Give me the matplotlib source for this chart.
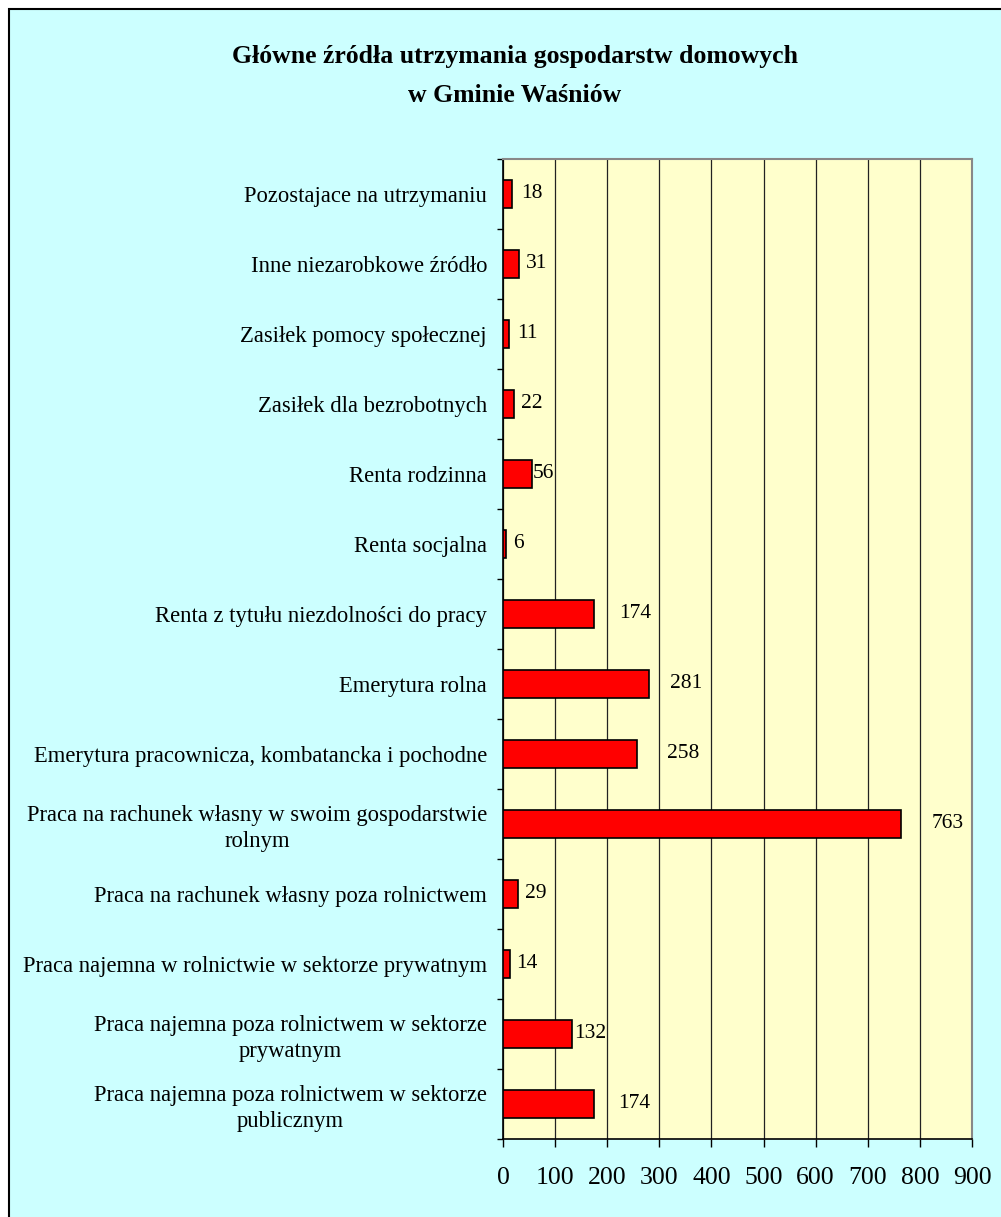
import matplotlib
matplotlib.use("Agg")
import matplotlib.pyplot as plt
from matplotlib.patches import Rectangle
from matplotlib.ticker import FixedLocator

plt.rcParams['font.family'] = ['Liberation Serif', 'DejaVu Serif']

# Data (bottom -> top as drawn)
categories = [
    "Praca najemna poza rolnictwem w sektorze\npublicznym",
    "Praca najemna poza rolnictwem w sektorze\nprywatnym",
    "Praca najemna w rolnictwie w sektorze prywatnym",
    "Praca na rachunek własny poza rolnictwem",
    "Praca na rachunek własny w swoim gospodarstwie\nrolnym",
    "Emerytura pracownicza, kombatancka i pochodne",
    "Emerytura rolna",
    "Renta z tytułu niezdolności do pracy",
    "Renta socjalna",
    "Renta rodzinna",
    "Zasiłek dla bezrobotnych",
    "Zasiłek pomocy społecznej",
    "Inne niezarobkowe źródło",
    "Pozostajace na utrzymaniu",
]
values = [174, 132, 14, 29, 763, 258, 281, 174, 6, 56, 22, 11, 31, 18]
x_ticks = [0, 100, 200, 300, 400, 500, 600, 700, 800, 900]
title = "Główne źródła utrzymania gospodarstw domowych\nw Gminie Waśniów"

# Style: label offsets (px) from bar end, as in the original rendering
label_pad_px = [24, 2, 6, 7, 31, 30, 21, 25, 7, 1, 7, 8, 7, 9]

W, H = 1001, 1217
fig = plt.figure(figsize=(W / 100, H / 100), dpi=100)
fig.patch.set_facecolor('white')

# outer chart area (cyan) with black border
fig.patches.append(Rectangle((9 / W, -0.01), 1.0, 1 - 9 / H + 0.01,
                             transform=fig.transFigure, facecolor='#CCFFFF',
                             edgecolor='black', linewidth=1.5, zorder=-10))

left, right, top, bottom = 503, 972, 159, 1139
ax = fig.add_axes([left / W, 1 - bottom / H, (right - left) / W, (bottom - top) / H])
ax.set_zorder(5)
ax.set_facecolor('#FFFFCC')

y = list(range(len(categories)))
ax.barh(y, values, height=0.39, color='#FF0000', edgecolor='black',
        linewidth=1.2, zorder=3)

ax.set_xlim(0, 900)
ax.set_ylim(-0.5, len(categories) - 0.5)

ax.xaxis.set_major_locator(FixedLocator(x_ticks))
ax.set_xticklabels([str(t) for t in x_ticks], fontsize=18.5)
ax.tick_params(axis='x', direction='out', length=6, width=1, pad=14, colors='black')
ax.grid(axis='x', color='#222222', linewidth=0.9, zorder=1)
ax.set_axisbelow(True)

ax.yaxis.set_major_locator(FixedLocator(y))
ax.set_yticklabels(categories, fontsize=16.3, multialignment='center', linespacing=1.25)
ax.tick_params(axis='y', which='major', length=0, pad=11.5)
ax.yaxis.set_minor_locator(FixedLocator([i - 0.5 for i in range(len(categories) + 1)]))
ax.tick_params(axis='y', which='minor', direction='out', length=4.5, width=1, color='black')

for s in ['left', 'bottom']:
    ax.spines[s].set_color('black')
    ax.spines[s].set_linewidth(1.2)
for s in ['top', 'right']:
    ax.spines[s].set_color('#888888')
    ax.spines[s].set_linewidth(1.5)

for yi, v, p in zip(y, values, label_pad_px):
    ax.annotate(str(v), xy=(v, yi), xytext=(p, 0), textcoords='offset pixels',
                ha='left', va='center', fontsize=15.5, zorder=4)

fig.text(514.5 / W, 1 - 76 / H, title, ha='center', va='center',
         fontsize=18.5, fontweight='bold', linespacing=1.86)

fig.savefig('out.png', dpi=100, facecolor=fig.get_facecolor())
